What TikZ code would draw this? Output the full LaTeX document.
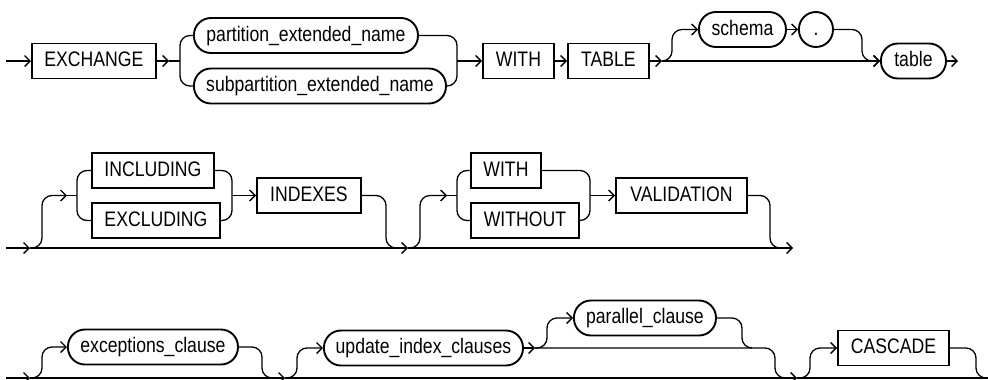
\documentclass[tikz,border=0pt]{standalone}
\usepackage{fontspec}
\setmainfont[FakeStretch=0.84]{Liberation Sans}
\usetikzlibrary{arrows.meta}
\begin{document}
\begin{tikzpicture}[x=1pt,y=-1pt,line width=1.3pt,
  kw/.style={draw,line width=1.9pt,rectangle,minimum height=35pt,inner sep=0pt,anchor=west,
    text height=15pt,text depth=4pt,font=\fontsize{21}{25}\selectfont},
  nt/.style={kw,rounded corners=17pt},
  arr/.style={-{Straight Barb[length=5.5pt,width=11pt]}},
  rc/.style={rounded corners=10pt}]
\useasboundingbox (0,0) rectangle (988,380);
% ---------- row 1 ----------
\node[kw,minimum width=124pt] (exch) at (31,61) {EXCHANGE};
\node[nt,minimum width=224pt] (pen) at (193,35.5) {partition\_extended\_name};
\node[nt,minimum width=252pt] (spen) at (193,86) {subpartition\_extended\_name};
\node[kw,minimum width=71pt] (with) at (482,61) {WITH};
\node[kw,minimum width=81pt] (tab) at (567,61) {TABLE};
\node[nt,minimum width=87pt] (schema) at (698,29.5) {schema};
\node[nt,minimum width=34pt] (dot) at (798,29.5) {.};
\node[nt,minimum width=65pt] (table) at (880,61) {table};
\coordinate (s0) at (6,61);
\coordinate (a1) at (169,61);
\coordinate (b1) at (180,61);
\coordinate (b2) at (457,61);
\coordinate (a2) at (662,61);
\coordinate (e1) at (958,61);
\draw[arr] (s0) -- (exch.west);
\draw[arr] (exch.east) -- (a1);
\draw (a1) -- (b1);
\draw[rc] (b1) |- (pen.west);
\draw[rc] (b1) |- (spen.west);
\draw[rc] (pen.east) -| (b2);
\draw[rc] (spen.east) -| (b2);
\draw[arr] (b2) -- (with.west);
\draw[arr] (with.east) -- (tab.west);
\draw[arr] (tab.east) -- (a2);
\draw[arr] (a2) -- (table.west);
\draw[arr,rc] (a2) -- ++(10,0) |- (schema.west);
\draw[arr] (schema.east) -- (dot.west);
\draw[arr,rc] (dot.east) -| ([xshift=-18pt]table.west) -- (table.west);
\draw[arr] (table.east) -- (e1);
% ---------- row 2 ----------
\node[kw,minimum width=122pt] (incl) at (91,170.5) {INCLUDING};
\node[kw,minimum width=128pt] (excl) at (91,220.5) {EXCLUDING};
\node[kw,minimum width=104pt] (idx) at (256,195.5) {INDEXES};
\node[kw,minimum width=70pt] (with2) at (470,170.5) {WITH};
\node[kw,minimum width=108pt] (wout) at (470,220.5) {WITHOUT};
\node[kw,minimum width=131pt] (val) at (615,195.5) {VALIDATION};
\coordinate (r2s) at (6,248);
\coordinate (r2a) at (30,248);
\coordinate (r2b) at (408,248);
\coordinate (r2e) at (793,248);
\coordinate (c1) at (67,195.5);
\coordinate (bl1) at (77,195.5);
\coordinate (br1) at (232,195.5);
\coordinate (c2) at (447,195.5);
\coordinate (bl2) at (457,195.5);
\coordinate (br2) at (590,195.5);
\draw[arr] (r2s) -- (r2a);
\draw[arr] (r2a) -- (r2b);
\draw[arr] (r2b) -- (r2e);
\draw[arr,rc] (r2a) -- ++(12,0) |- (c1);
\draw (c1) -- (bl1);
\draw[rc] (bl1) |- (incl.west);
\draw[rc] (bl1) |- (excl.west);
\draw[rc] (incl.east) -| (br1);
\draw[rc] (excl.east) -| (br1);
\draw[arr] (br1) -- (idx.west);
\draw[rc] (idx.east) -| ([xshift=-22pt]r2b) -- ([xshift=-10pt]r2b);
\draw[arr,rc] (r2b) -- ++(12,0) |- (c2);
\draw (c2) -- (bl2);
\draw[rc] (bl2) |- (with2.west);
\draw[rc] (bl2) |- (wout.west);
\draw[rc] (with2.east) -| (br2);
\draw[rc] (wout.east) -| (br2);
\draw[arr] (br2) -- (val.west);
\draw[rc] (val.east) -| ([xshift=-23pt]r2e) -- ([xshift=-11pt]r2e);
% ---------- row 3 ----------
\node[nt,minimum width=170pt] (exc) at (67,347) {exceptions\_clause};
\node[nt,minimum width=199pt] (uic) at (323,348) {update\_index\_clauses};
\node[nt,minimum width=142pt] (par) at (573,318) {parallel\_clause};
\node[kw,minimum width=111pt] (cas) at (837,348) {CASCADE};
\coordinate (r3s) at (6,378);
\coordinate (r3a) at (30,378);
\coordinate (r3b) at (285,378);
\coordinate (r3c) at (797,378);
\coordinate (r3e) at (988,378);
\coordinate (u1) at (535,348);
\draw[arr] (r3s) -- (r3a);
\draw[arr] (r3a) -- (r3b);
\draw[arr] (r3b) -- (r3c);
\draw (r3c) -- (r3e);
\draw[arr,rc] (r3a) -- ++(12,0) |- (exc.west);
\draw[rc] (exc.east) -| ([xshift=-23pt]r3b) -- ([xshift=-11pt]r3b);
\draw[arr,rc] (r3b) -- ++(12,0) |- (uic.west);
\draw[arr] (uic.east) -- (u1);
\draw[arr,rc] (u1) -- ++(12,0) |- (par.west);
\draw[rc] (par.east) -| ([xshift=207pt]u1) -- ([xshift=217pt]u1);
\draw[rc] (u1) -| ([xshift=-22pt]r3c) -- ([xshift=-10pt]r3c);
\draw[arr,rc] (r3c) -- ++(13,0) |- (cas.west);
\draw[rc] (cas.east) -| ([xshift=-12pt]r3e) -- ([xshift=-2pt]r3e);
\end{tikzpicture}
\end{document}
